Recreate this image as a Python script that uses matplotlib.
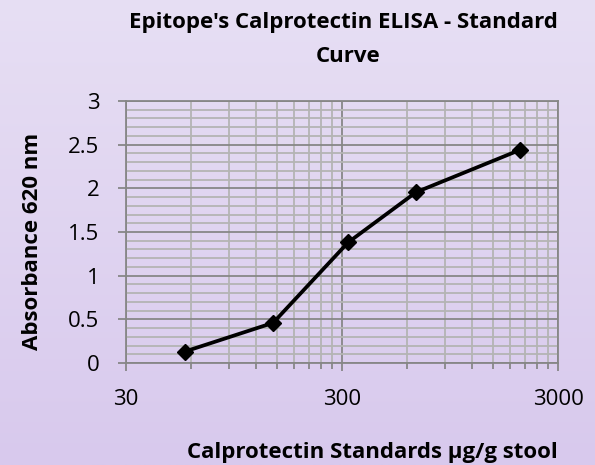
import numpy as np
import matplotlib
matplotlib.use("Agg")
import matplotlib.pyplot as plt
from matplotlib.ticker import FixedLocator, MultipleLocator, NullFormatter, FuncFormatter

# standards (ug/g stool) and absorbance
standards = [56, 144, 320, 660, 2000]
absorbance = [0.13, 0.46, 1.38, 1.955, 2.44]

x_major = [30, 300, 3000]
x_labels = ["30", "300", "3000"]

title_lines = ["Epitope's Calprotectin ELISA - Standard", "Curve"]
x_title = "Calprotectin Standards µg/g stool"
y_title = "Absorbance 620 nm"

W, H = 595, 465
plt.rcParams['font.family'] = ['Open Sans', 'DejaVu Sans']

fig = plt.figure(figsize=(W / 100, H / 100), dpi=100)

# lavender gradient background
bg = fig.add_axes([0, 0, 1, 1], zorder=-10)
top = np.array([231, 223, 244]) / 255
bot = np.array([216, 201, 237]) / 255
t = np.linspace(0, 1, 256)[:, None, None]
grad = top * (1 - t) + bot * t
bg.imshow(grad, aspect='auto', extent=[0, 1, 0, 1])
bg.axis('off')

ax = fig.add_axes([126 / W, 1 - 363 / H, (558 - 126) / W, (363 - 101) / H])
ax.set_facecolor('none')
ax.set_xscale('log')
ax.set_xlim(30, 3000)
ax.set_ylim(0, 3)

minor_x = [30 * k * 10 ** n for n in range(2) for k in range(2, 10)]
ax.xaxis.set_major_locator(FixedLocator(x_major))
ax.xaxis.set_minor_locator(FixedLocator(minor_x))
ax.xaxis.set_minor_formatter(NullFormatter())
ax.set_xticklabels(x_labels)
ax.yaxis.set_major_locator(MultipleLocator(0.5))
ax.yaxis.set_minor_locator(MultipleLocator(0.1))
ax.yaxis.set_major_formatter(FuncFormatter(lambda v, p: f"{v:g}"))

ax.grid(which='major', color='#878787', linewidth=1.3)
ax.grid(which='minor', color='#b4b4b4', linewidth=1.3)
ax.set_axisbelow(True)
for s in ax.spines.values():
    s.set_color('#878787')
    s.set_linewidth(1.3)

ax.tick_params(axis='y', which='major', direction='out', length=6, width=1.3,
               color='#878787', labelsize=16, pad=13)
ax.tick_params(axis='y', which='minor', length=0)
ax.tick_params(axis='x', which='major', direction='out', length=5.5, width=1.3,
               color='#878787', labelsize=16, pad=13)
ax.tick_params(axis='x', which='minor', direction='out', length=4, width=1.3,
               color='#878787')

ax.plot(standards, absorbance, color='black', linewidth=2.7, marker='D',
        markersize=8.5, markerfacecolor='black', markeredgecolor='black',
        clip_on=False, zorder=5)

fig.text(343 / W, 1 - 28 / H, title_lines[0], ha='center', va='baseline',
         fontsize=16, fontweight='bold')
fig.text(348 / W, 1 - 62 / H, title_lines[1], ha='center', va='baseline',
         fontsize=16, fontweight='bold')
fig.text(372 / W, 1 - 458 / H, x_title, ha='center', va='baseline',
         fontsize=16, fontweight='bold')
fig.text(33 / W, 1 - 241 / H, y_title, ha='center', va='center',
         rotation=90, fontsize=16, fontweight='bold')

fig.savefig('out.png', dpi=100)
